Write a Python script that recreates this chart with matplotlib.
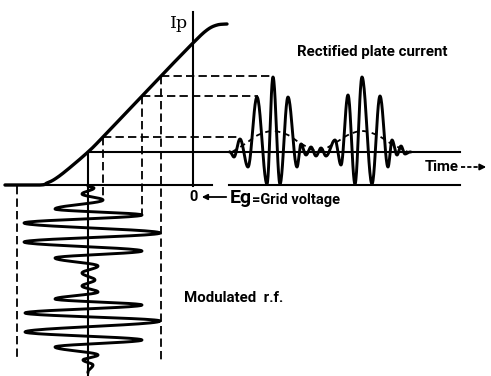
import numpy as np
import matplotlib
matplotlib.use("Agg")
import matplotlib.pyplot as plt
from matplotlib import font_manager

plt.rcParams["lines.scale_dashes"] = False

W, H = 491, 376

# ---- data (picture units: x to the right, y downward) ----
# Plate-current / grid-voltage characteristic
curve_x = [5, 40, 47, 55, 67, 88, 103, 142, 161, 193, 207, 217, 227]
curve_y = [185, 185, 183, 179, 170, 152, 137, 96, 76, 43, 30, 25, 24]

# Modulated r.f. grid voltage: successive extremes (time runs downward)
rf_time = [186, 188, 194, 200, 209, 215, 223, 233, 242, 251, 258, 266, 273,
           280, 286, 292, 299, 305, 313, 321, 332, 340, 347, 355, 360, 365, 372]
rf_volt = [88, 94, 82, 103, 55, 142, 24, 160, 24, 142, 55, 98, 82,
           95, 82, 98, 55, 142, 25, 160, 25, 142, 55, 98, 83, 93, 88]

# Rectified plate current: successive extremes (time runs to the right)
pc_time = [230, 234, 240, 248, 257, 267, 273, 280, 288, 297, 301, 306, 311,
           316, 321, 326, 335, 341, 348, 355, 362, 372, 380, 388, 392, 397,
           401, 405, 410]
pc_curr = [152, 157, 139, 167, 97, 184, 77, 184, 97, 167, 144, 155, 147,
           156, 148, 156, 140, 165, 95, 184, 77, 184, 96, 167, 140, 155,
           146, 154, 152]

# Average (detected) plate current, dashed
env_time = [232, 245, 258, 273, 288, 300, 318, 335, 348, 362, 377, 390, 408]
env_curr = [152, 144, 135, 131, 135, 143, 151, 143, 135, 131, 135, 143, 152]

# Projection lines: grid level -> plate level
proj_grid = [103, 142, 161]
proj_plate = [137, 96, 76]
proj_right_end = [238, 258, 272]
proj_down_end = [200, 215, 360]


def cosine_path(ts, vs, n=24):
    out_t, out_v = [], []
    for i in range(len(ts) - 1):
        s = np.linspace(0, 1, n)
        out_t.append(ts[i] + (ts[i + 1] - ts[i]) * s)
        out_v.append(vs[i] + (vs[i + 1] - vs[i]) * (1 - np.cos(np.pi * s)) / 2)
    return np.concatenate(out_t), np.concatenate(out_v)


def catmull_rom(xs, ys, n=16):
    P = np.column_stack([xs, ys]).astype(float)
    P = np.vstack([P[0], P, P[-1]])
    res = []
    for i in range(1, len(P) - 2):
        p0, p1, p2, p3 = P[i - 1], P[i], P[i + 1], P[i + 2]
        t = np.linspace(0, 1, n)[:, None]
        seg = 0.5 * ((2 * p1) + (-p0 + p2) * t + (2 * p0 - 5 * p1 + 4 * p2 - p3) * t ** 2
                     + (-p0 + 3 * p1 - 3 * p2 + p3) * t ** 3)
        res.append(seg)
    R = np.vstack(res)
    return R[:, 0], R[:, 1]


names = {f.name for f in font_manager.fontManager.ttflist}
FONT = "Roboto" if "Roboto" in names else "DejaVu Sans"

fig = plt.figure(figsize=(W / 100, H / 100), dpi=100)
ax = fig.add_axes([0, 0, 1, 1])
ax.set_xlim(0, W)
ax.set_ylim(H, 0)
ax.axis("off")

K = "black"
AX_LW = 1.5
CURVE_LW = 2.1
DASH = dict(color=K, lw=1.3, dashes=(6, 3))

# axes
ax.plot([5, 212], [185, 185], color=K, lw=AX_LW)
ax.plot([229, 460], [185, 185], color=K, lw=AX_LW)
ax.plot([193, 193], [12, 186], color=K, lw=AX_LW)
ax.plot([88, 460], [152, 152], color=K, lw=AX_LW)
ax.plot([88, 88], [152, 376], color=K, lw=AX_LW)

# characteristic
cx, cy = catmull_rom(curve_x, curve_y)
ax.plot(cx, cy, color=K, lw=CURVE_LW + 0.3, solid_capstyle="round")

# projection dashed lines
for g, p, r, d in zip(proj_grid, proj_plate, proj_right_end, proj_down_end):
    ax.plot([g, r], [p, p], **DASH)
    ax.plot([g, g], [p, d], **DASH)
ax.plot([17, 17], [186, 360], **DASH)

# modulated r.f.
t, v = cosine_path(rf_time, rf_volt)
ax.plot(v, t, color=K, lw=CURVE_LW, solid_joinstyle="round")

# rectified plate current
t, c = cosine_path(pc_time, pc_curr)
ax.plot(t, c, color=K, lw=CURVE_LW, solid_joinstyle="round")

# average current (dashed)
ex, ey = catmull_rom(env_time, env_curr)
ax.plot(ex, ey, color=K, lw=1.3, dashes=(4, 3))

# texts
SANS = dict(family=[FONT, "DejaVu Sans"], fontweight="bold", color=K)
ax.text(170, 23, "Ip", family="DejaVu Serif", fontsize=12.5, ha="left", va="center", color=K)
ax.text(297, 52, "Rectified plate current", fontsize=10.8, ha="left", va="center", **SANS)
ax.text(189, 197, "0", fontsize=10.5, ha="left", va="center", **SANS)
ax.annotate("", xy=(199, 197), xytext=(229, 197),
            arrowprops=dict(arrowstyle="-|>", color=K, lw=1.3, mutation_scale=8))
ax.text(230, 198, "Eg", fontsize=14, ha="left", va="center", **SANS)
ax.text(252, 200, "=Grid voltage", fontsize=10.5, ha="left", va="center", **SANS)
ax.text(184, 298, "Modulated  r.f.", fontsize=10.8, ha="left", va="center", **SANS)
ax.text(425, 167, "Time", fontsize=10.8, ha="left", va="center", **SANS)
ax.plot([461, 480], [167, 167], color=K, lw=1.3, dashes=(3, 1.5))
ax.annotate("", xy=(489, 167), xytext=(478, 167),
            arrowprops=dict(arrowstyle="-|>", color=K, lw=1.3, mutation_scale=9))

fig.savefig("out.png", dpi=100)
